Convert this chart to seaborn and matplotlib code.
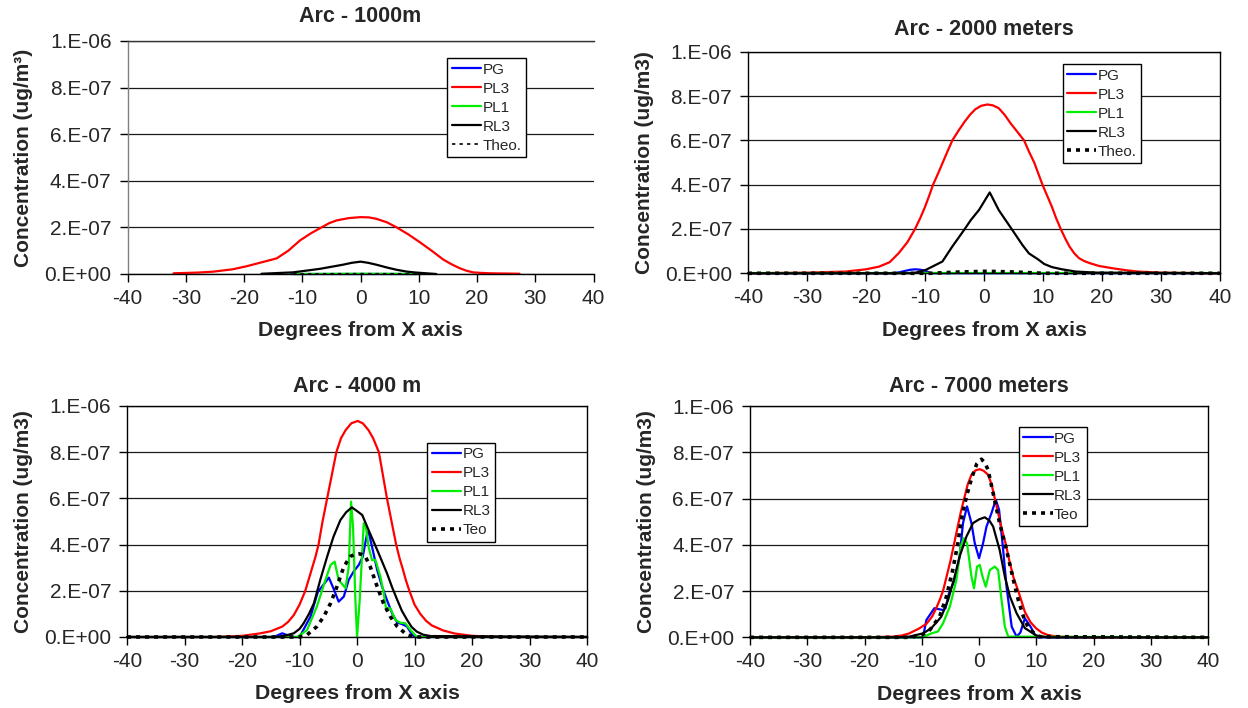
import matplotlib
matplotlib.use("Agg")
import matplotlib.pyplot as plt
import pandas as pd
import seaborn as sns

# ---------------- data (concentrations in units of 1e-7 ug/m3) ----------------
UNIT = 1e-7
X_TICKS = [-40, -30, -20, -10, 0, 10, 20, 30, 40]
Y_TICKS = [0, 2e-7, 4e-7, 6e-7, 8e-7, 1e-6]
Y_TICK_LABELS = ["0.E+00", "2.E-07", "4.E-07", "6.E-07", "8.E-07", "1.E-06"]
X_LABEL = "Degrees from X axis"

# Arc - 1000m
a1_pg_x = [-12, 10]
a1_pg_y = [0, 0]
a1_pl3_x = [-32.1, -28, -25.3, -22, -19.6, -17, -14.4, -12.4, -10.4, -8.5, -6.7, -5.4, -4.1, -2, 0,
            1.4, 2.7, 4.5, 6.2, 8.2, 10.2, 12.2, 14.2, 15.6, 17, 18.2, 19.3, 20.5, 22.2, 25, 27.3]
a1_pl3_y = [0.03, 0.06, 0.1, 0.2, 0.33, 0.5, 0.67, 1.0, 1.44, 1.75, 2.0, 2.18, 2.3, 2.4, 2.44,
            2.43, 2.37, 2.22, 2.0, 1.7, 1.36, 1.0, 0.62, 0.42, 0.25, 0.14, 0.07, 0.05, 0.03, 0.02, 0.01]
a1_pl1_x = [-11.6, -6, 0, 6, 9.7]
a1_pl1_y = [0, 0.005, 0.01, 0.005, 0]
a1_rl3_x = [-17, -11.6, -7, -3, -1.5, 0, 1.3, 2.7, 4.5, 6.2, 8, 9.6, 13]
a1_rl3_y = [0.01, 0.07, 0.22, 0.4, 0.48, 0.53, 0.48, 0.4, 0.28, 0.18, 0.1, 0.06, 0]
a1_th_x = [-11.6, -6, 0, 6, 9.7]
a1_th_y = [0.002, 0.008, 0.012, 0.008, 0.002]

# Arc - 2000 meters
a2_pg_x = [-40, -15.3, -14.3, -13.5, -12.5, -11.6, -10.8, -10, -9, 40]
a2_pg_y = [0, 0, 0.05, 0.1, 0.16, 0.18, 0.16, 0.12, 0, 0]
a2_pl3_x = [-40, -30, -26, -23.4, -20, -17.8, -16, -14.5, -13, -11.7, -10.8, -10, -9.3, -8.64, -7.8,
            -7, -6.2, -5.37, -4.3, -3.3, -2.4, -1.5, -0.5, 0.56, 1.5, 2.5, 3.5, 4.5, 5.6, 6.78, 7.6,
            8.5, 9.2, 9.9, 10.7, 11.5, 12.2, 13, 13.8, 14.5, 15.3, 16.1, 17, 18, 19.5, 21.7, 24, 26,
            30, 40]
a2_pl3_y = [0, 0.03, 0.06, 0.08, 0.18, 0.3, 0.5, 0.9, 1.4, 2.0, 2.5, 3.0, 3.5, 4.0, 4.5,
            5.0, 5.5, 6.0, 6.45, 6.84, 7.15, 7.4, 7.56, 7.62, 7.58, 7.45, 7.15, 6.77, 6.4, 6.0, 5.5,
            5.0, 4.5, 4.0, 3.5, 3.0, 2.5, 2.0, 1.55, 1.2, 0.9, 0.68, 0.55, 0.45, 0.33, 0.23, 0.14, 0.08,
            0.03, 0]
a2_pl1_x = [-40, 40]
a2_pl1_y = [0, 0]
a2_rl3_x = [-40, -12, -9.9, -7.06, -5.4, -3.4, -2.25, -0.85, 0.96, 2.5, 4.8, 6.5, 7.6, 9.2, 10.2,
            11.5, 13.2, 15.5, 18.9, 40]
a2_rl3_y = [0, 0, 0.15, 0.53, 1.2, 1.95, 2.4, 2.86, 3.65, 2.85, 1.95, 1.28, 0.9, 0.62, 0.42,
            0.28, 0.18, 0.08, 0.03, 0]
a2_th_x = [-40, -9, -4, 0.5, 5, 10, 40]
a2_th_y = [0, 0, 0.06, 0.09, 0.06, 0, 0]

# Arc - 4000 m
a4_pg_x = [-40, -14.5, -13, -11.3, -10, -8.1, -6.8, -6.1, -4.9, -4.1, -3.2, -2.3, -1.45, -0.6, 0.3,
           1.0, 1.75, 2.0, 2.6, 3.5, 4.35, 5.2, 6.1, 7.0, 7.8, 8.7, 9.6, 10.1, 40]
a4_pg_y = [0, 0, 0.16, 0, 0, 0.88, 1.96, 2.18, 2.57, 2.1, 1.53, 1.75, 2.47, 2.83, 3.12,
           3.48, 4.49, 4.56, 3.91, 2.9, 2.18, 1.6, 1.02, 0.62, 0.56, 0.45, 0.09, 0, 0]
a4_pl3_x = [-40, -25, -20, -17, -15, -13, -12, -11, -10, -9, -8.4, -7.8, -7.2, -6.7, -6, -5.2, -4.4,
            -3.6, -2.8, -2, -1, 0.1, 1, 2, 2.8, 3.8, 4.5, 5.2, 6, 6.8, 7.4, 8, 8.5, 9.1, 10, 11, 12,
            13, 15, 17, 20, 25, 40]
a4_pl3_y = [0, 0, 0.05, 0.15, 0.25, 0.45, 0.65, 0.95, 1.4, 2.0, 2.5, 3.0, 3.5, 4.0, 5.0, 6.0, 7.0,
            8.0, 8.6, 8.95, 9.25, 9.35, 9.25, 8.95, 8.6, 8.0, 7.0, 6.0, 5.0, 4.0, 3.4, 2.9, 2.45, 2.0,
            1.4, 1.0, 0.7, 0.5, 0.28, 0.15, 0.05, 0, 0]
a4_pl1_x = [-40, -10.4, -8.7, -7, -5.5, -4.6, -3.9, -3.2, -2, -1.45, -1.04, -0.7, -0.29, 0, 0.46,
            1.16, 1.45, 2, 2.6, 3.2, 4.06, 4.64, 5.04, 5.8, 6.67, 7.5, 8.4, 9.3, 10.4, 40]
a4_pl1_y = [0, 0, 0.3, 1.31, 2.47, 3.12, 3.26, 2.47, 2.11, 3.04, 5.86, 4.78, 1.6, 0, 1.6,
            4.92, 4.92, 3.91, 3.33, 3.33, 2.61, 1.89, 1.24, 1.24, 0.74, 0.62, 0.59, 0.3, 0, 0]
a4_rl3_x = [-40, -14, -12.5, -11, -10, -9.3, -8.4, -7.5, -6.4, -5.2, -4.1, -2.9, -1.9, -0.9, 0, 0.9,
            2, 3.5, 5.2, 6.1, 7, 7.8, 8.7, 9.5, 10.4, 11.5, 12.8, 40]
a4_rl3_y = [0, 0, 0.06, 0.16, 0.35, 0.59, 0.98, 1.46, 2.47, 3.48, 4.34, 5.06, 5.4, 5.61, 5.45, 5.28,
            4.63, 3.77, 2.76, 2.15, 1.6, 1.13, 0.74, 0.43, 0.23, 0.1, 0.04, 0]
a4_th_x = [-40, -10, -8.7, -7, -5.8, -4.6, -3.5, -2.3, -1.2, -0.4, 0.3, 0.9, 1.45, 2.3, 3.5, 4.6, 5.8,
           7, 8.7, 10, 40]
a4_th_y = [0, 0, 0.09, 0.45, 0.88, 1.46, 2.18, 3.04, 3.48, 3.58, 3.6, 3.57, 3.48, 3.04, 2.18, 1.46,
           0.88, 0.45, 0.09, 0, 0]

# Arc - 7000 meters
a7_pg_x = [-40, -9.8, -9.2, -7.8, -6.3, -5.85, -5.26, -4.26, -3.4, -2.8, -2.1, -1.33, -0.75, 0, 0.7,
           1.3, 2.17, 2.93, 3.5, 4.1, 4.8, 5.7, 6.56, 7.2, 8.0, 9, 10, 40]
a7_pg_y = [0, 0, 0.75, 1.26, 1.18, 1.26, 1.9, 2.48, 3.49, 4.94, 5.66, 4.94, 4.07, 3.42, 4.07,
           4.79, 5.37, 5.95, 5.51, 4.07, 2.19, 0.46, 0.03, 0.2, 0.82, 0.46, 0, 0]
a7_pl3_x = [-40, -20, -15.1, -13.5, -12.2, -10.5, -9.2, -8.2, -7.5, -6.9, -6.3, -5.7, -5, -4.4, -3.8,
            -3.2, -2.6, -2, -1.33, -0.6, 0.12, 0.8, 1.58, 2.2, 2.75, 3.4, 4, 4.7, 5.3, 6, 6.85, 7.5,
            8, 9, 10, 11, 12, 13.5, 15, 20, 40]
a7_pl3_y = [0, 0, 0.03, 0.08, 0.17, 0.38, 0.58, 0.9, 1.25, 1.6, 2.0, 2.6, 3.3, 4.0, 4.7,
            5.4, 6.0, 6.6, 7.03, 7.22, 7.27, 7.2, 7.03, 6.6, 6.0, 5.3, 4.65, 4.0, 3.3, 2.6, 2.0, 1.5,
            1.1, 0.65, 0.38, 0.2, 0.1, 0.04, 0.02, 0, 0]
a7_pl1_x = [-40, -9.8, -8.35, -7.2, -6.3, -5.1, -3.96, -3.2, -2.68, -2.1, -1.33, -0.88, -0.35, 0.12,
            0.6, 1.17, 1.88, 2.75, 3.33, 3.93, 4.5, 5.1, 40]
a7_pl1_y = [0, 0, 0.17, 0.25, 0.6, 1.33, 2.48, 3.92, 4.29, 4.07, 2.63, 2.12, 3.06, 3.13,
            2.63, 2.19, 2.91, 3.06, 2.91, 1.62, 0.46, 0.03, 0]
a7_rl3_x = [-40, -14, -12.2, -9.8, -8.35, -6.6, -5.4, -4.26, -3.4, -2.2, -1.05, 0, 1.0, 1.8, 2.46,
            3.6, 4.5, 5.4, 6.56, 8, 10, 12, 40]
a7_rl3_y = [0, 0, 0.03, 0.17, 0.39, 0.89, 1.62, 2.63, 3.49, 4.36, 4.94, 5.1, 5.19, 5.05, 4.79,
            3.78, 2.63, 1.76, 1.04, 0.4, 0.08, 0, 0]
a7_th_x = [-40, -12, -10, -8.6, -6.9, -5.7, -4.6, -3.7, -3.1, -2.2, -1.3, -0.4, 0.42, 1.0, 1.58,
           2.46, 3.6, 4.8, 6.0, 6.85, 8, 9, 10.5, 40]
a7_th_y = [0, 0, 0.1, 0.32, 0.89, 1.76, 2.91, 4.07, 5.08, 6.09, 6.88, 7.5, 7.7, 7.55, 7.24,
           6.23, 4.93, 3.78, 2.48, 1.62, 0.7, 0.3, 0.03, 0]

# ---------------- style ----------------
sns.set_theme(style="white")
plt.rcParams["font.family"] = ["Liberation Sans", "DejaVu Sans"]

COLORS = {"PG": "#0000ff", "PL3": "#ff0000", "PL1": "#00ee00", "RL3": "#000000"}

panels = [
    dict(title="Arc - 1000m", ylabel="Concentration (ug/m\u00b3)", theo="Theo.",
         rect=[0.1022, 0.6130, 0.3734, 0.3291], right=False, leg=(0.686, 0.927), tpad=14,
         thin_theo=True,
         series=[(a1_pg_x, a1_pg_y), (a1_pl3_x, a1_pl3_y), (a1_pl1_x, a1_pl1_y),
                 (a1_rl3_x, a1_rl3_y), (a1_th_x, a1_th_y)]),
    dict(title="Arc - 2000 meters", ylabel="Concentration (ug/m3)", theo="Theo.",
         rect=[0.5994, 0.6140, 0.3782, 0.3129], right=True, leg=(0.667, 0.945), tpad=12,
         thin_theo=False,
         series=[(a2_pg_x, a2_pg_y), (a2_pl3_x, a2_pl3_y), (a2_pl1_x, a2_pl1_y),
                 (a2_rl3_x, a2_rl3_y), (a2_th_x, a2_th_y)]),
    dict(title="Arc - 4000 m", ylabel="Concentration (ug/m3)", theo="Teo",
         rect=[0.1018, 0.1003, 0.3686, 0.3263], right=True, leg=(0.653, 0.841), tpad=10,
         thin_theo=False,
         series=[(a4_pg_x, a4_pg_y), (a4_pl3_x, a4_pl3_y), (a4_pl1_x, a4_pl1_y),
                 (a4_rl3_x, a4_rl3_y), (a4_th_x, a4_th_y)]),
    dict(title="Arc - 7000 meters", ylabel="Concentration (ug/m3)", theo="Teo",
         rect=[0.6010, 0.0998, 0.3670, 0.3267], right=True, leg=(0.587, 0.909), tpad=10,
         thin_theo=False,
         series=[(a7_pg_x, a7_pg_y), (a7_pl3_x, a7_pl3_y), (a7_pl1_x, a7_pl1_y),
                 (a7_rl3_x, a7_rl3_y), (a7_th_x, a7_th_y)]),
]

fig = plt.figure(figsize=(12.48, 7.08), dpi=100)

for p in panels:
    ax = fig.add_axes(p["rect"])
    names = ["PG", "PL3", "PL1", "RL3", p["theo"]]
    for name, (xs, ys) in zip(names, p["series"]):
        df = pd.DataFrame({"x": xs, "y": [v * UNIT for v in ys]})
        if name in COLORS:
            sns.lineplot(data=df, x="x", y="y", ax=ax, color=COLORS[name], lw=1.6,
                         label=name, estimator=None)
        else:
            if p["thin_theo"]:
                sns.lineplot(data=df, x="x", y="y", ax=ax, color="black", lw=1.2,
                             linestyle=(0, (2.0, 2.5)), label=name, estimator=None)
            else:
                sns.lineplot(data=df, x="x", y="y", ax=ax, color="black", lw=2.6,
                             linestyle=(0, (1.1, 1.4)), label=name, estimator=None)
    for ln in ax.lines:
        ln.set_clip_on(False)
        ln.set_solid_joinstyle("round")

    ax.set_xlim(-40, 40)
    ax.set_ylim(0, 1e-6)
    ax.set_xticks(X_TICKS)
    ax.set_xticklabels([str(v) for v in X_TICKS])
    ax.set_yticks(Y_TICKS)
    ax.set_yticklabels(Y_TICK_LABELS)
    ax.yaxis.grid(True, color="#1a1a1a", lw=0.9)
    ax.xaxis.grid(False)
    ax.set_axisbelow(True)
    for side in ["left", "bottom", "top"]:
        ax.spines[side].set_visible(True)
        ax.spines[side].set_color("black")
        ax.spines[side].set_linewidth(1.0)
    ax.spines["right"].set_visible(p["right"])
    ax.spines["right"].set_color("black")
    ax.spines["right"].set_linewidth(1.0)
    if p is panels[0]:
        ax.spines["left"].set_color("#808080")
        ax.spines["top"].set_color("#333333")
    ax.tick_params(axis="both", which="major", direction="out", length=5.5, width=1,
                   color="black", labelsize=15, bottom=True, left=True)
    ax.tick_params(axis="y", pad=6)
    ax.tick_params(axis="x", pad=5)

    ax.set_title(p["title"], fontsize=15.5, fontweight="bold", pad=p["tpad"])
    ax.set_xlabel(X_LABEL, fontsize=15.3, fontweight="bold", labelpad=10)
    ax.set_ylabel(p["ylabel"], fontsize=15, fontweight="bold", labelpad=8)

    leg = ax.legend(loc="upper left", bbox_to_anchor=p["leg"], fontsize=11,
                    frameon=True, fancybox=False, framealpha=1, edgecolor="black",
                    borderpad=0.3, labelspacing=0.33, handlelength=1.9, handletextpad=0.1,
                    borderaxespad=0)
    leg.get_frame().set_linewidth(1.0)

fig.savefig("out.png", dpi=100)
